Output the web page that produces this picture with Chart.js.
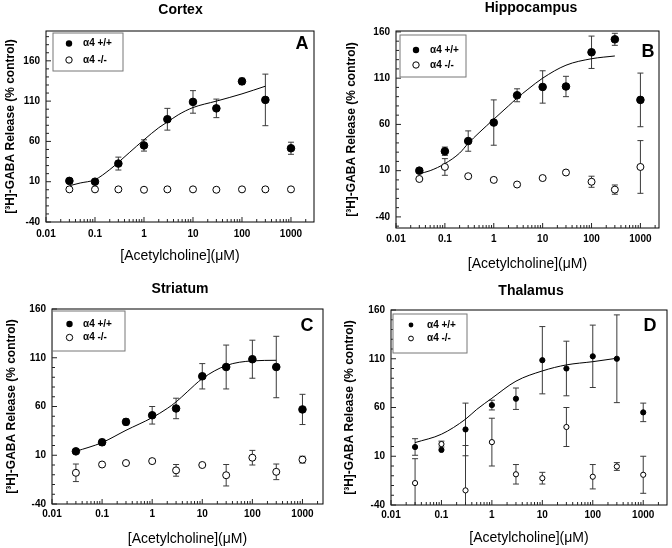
<!DOCTYPE html>
<html>
<head>
<meta charset="utf-8">
<script src="https://cdn.jsdelivr.net/npm/chart.js@4.4.0/dist/chart.umd.min.js"></script>
<style>
body { margin: 0; background: #fff; }
#wrap { position: relative; width: 672px; height: 548px; }
.panel { position: absolute; width: 336px; height: 274px; }
</style>
</head>
<body>
<div id="wrap">
  <div class="panel" style="left:0;top:0"><canvas id="cortex" width="336" height="274"></canvas></div>
  <div class="panel" style="left:336px;top:0"><canvas id="hippo" width="336" height="274"></canvas></div>
  <div class="panel" style="left:0;top:274px"><canvas id="striatum" width="336" height="274"></canvas></div>
  <div class="panel" style="left:336px;top:274px"><canvas id="thalamus" width="336" height="274"></canvas></div>
</div>
<script>
"use strict";
const conc = [0.03, 0.1, 0.3, 1, 3, 10, 30, 100, 300, 1000];
const xTicks = [0.01, 0.1, 1, 10, 100, 1000];
const xTickLabels = ["0.01", "0.1", "1", "10", "100", "1000"];
const yTicks = [-40, 10, 60, 110, 160];
const yTickLabels = ["-40", "10", "60", "110", "160"];
const legendLabels = ["\u03b14 +/+", "\u03b14 -/-"];
const xTitle = "[Acetylcholine](\u03bcM)";
const yTitle = "[\u00b3H]-GABA Release (% control)";

// Cortex (A)
const cortexWt = [11, 10, 32.5, 55, 87.5, 109, 101, 134.5, 111.5, 51.5];
const cortexWtErr = [2.5, 2.5, 8, 7, 13.5, 14, 11.5, 4, 32, 7.5];
const cortexKo = [0.5, 0.5, 0.5, 0, 0.5, 0.5, 0, 0.5, 0.5, 0.5];
const cortexKoErr = [0, 0, 0, 0, 0, 0, 0, 0, 0, 0];
const cortexFitX = [0.03, 0.05, 0.1, 0.2, 0.3, 0.5, 1, 2, 3, 5, 10, 30, 100, 300];
const cortexFitY = [5, 8.4, 12.5, 25, 34, 46, 62, 77, 84, 93, 102, 110, 119, 128.5];

// Hippocampus (B)
const hippoWt = [10, 31, 42, 62, 91.5, 100.5, 101, 138, 152, 86.5];
const hippoWtErr = [0, 4.5, 11, 24.5, 7, 17.5, 11, 17.5, 6.5, 29];
const hippoKo = [1, 14, 4, 0, -5, 2, 8, -2, -10.5, 14];
const hippoKoErr = [0, 9, 1.5, 2, 2, 0, 2, 6, 5, 28.5];
const hippoFitX = [0.03, 0.05, 0.1, 0.2, 0.3, 0.5, 1, 2, 3, 5, 10, 30, 100, 300];
const hippoFitY = [6.7, 10, 17.6, 29, 39.5, 51, 65.6, 80, 88.5, 98, 110, 124, 131, 134];

// Striatum (C)
const striatumWt = [14, 23.3, 44.2, 51, 58, 91, 100.5, 108.5, 100.5, 57];
const striatumWtErr = [1.5, 3, 3, 9, 10.5, 13, 22.5, 19.5, 31.5, 15.5];
const striatumKo = [-8, 0.5, 2, 4, -5.5, 0, -10.5, 7.5, -7, 5.5];
const striatumKoErr = [9, 0, 0, 2, 6, 0, 11, 7.5, 8, 3.5];
const striatumFitX = [0.03, 0.1, 0.3, 1, 2, 3, 5, 10, 30, 100, 300];
const striatumFitY = [14, 23, 35.6, 48.6, 58, 64.7, 75, 88.6, 102, 106.8, 107.4];

// Thalamus (D)
const thalamusWt = [19.5, 16.5, 37.5, 62.5, 69, 108.5, 100, 112.5, 110, 55];
const thalamusWtErr = [8.5, 0, 27, 5, 11, 34.5, 28, 32, 45, 9.5];
const thalamusKo = [-17.5, 22.5, -25, 24.5, -8.5, -12.5, 40, -11, -0.5, -9];
const thalamusKoErr = [25, 3, 46, 24.5, 10, 6, 20, 12.5, 4, 19];
const thalamusFitX = [0.03, 0.1, 0.3, 0.5, 1, 3, 10, 30, 100, 300];
const thalamusFitY = [24, 32.6, 48, 58, 69.5, 87, 97.5, 103.7, 107, 110.5];

const FONT = "'Liberation Sans', Arial, Helvetica, sans-serif";
Chart.defaults.font.family = FONT;
Chart.defaults.color = "#000";

const panels = [
  { id: "cortex", name: "Cortex", letter: "A", wt: cortexWt, wtErr: cortexWtErr, ko: cortexKo, koErr: cortexKoErr,
    fitX: cortexFitX, fitY: cortexFitY, area: [46, 31, 314, 222], xMax: 2950, yMin: -40, yMax: 197,
    titlePos: [180.5, 10], letterPos: [302, 44], legendBox: [53, 33, 123, 71], legendMark: [69, 43.5, 60], legendTextX: 83,
    r: 3.8, rOpen: 3.5, rLegend: 3.2, yTitlePad: 3, xTickPad: 6.5, xTitlePad: 9 },
  { id: "hippo", name: "Hippocampus", letter: "B", wt: hippoWt, wtErr: hippoWtErr, ko: hippoKo, koErr: hippoKoErr,
    fitX: hippoFitX, fitY: hippoFitY, area: [60, 31, 323, 228], xMax: 2400, yMin: -52, yMax: 161,
    titlePos: [195, 8], letterPos: [312, 52], legendBox: [64, 35, 130, 77], legendMark: [80, 50, 65], legendTextX: 94,
    r: 3.8, rOpen: 3.5, rLegend: 3.2, yTitlePad: 8, xTickPad: 5, xTitlePad: 1 },
  { id: "striatum", name: "Striatum", letter: "C", wt: striatumWt, wtErr: striatumWtErr, ko: striatumKo, koErr: striatumKoErr,
    fitX: striatumFitX, fitY: striatumFitY, area: [52, 35, 323, 230], xMax: 2570, yMin: -40, yMax: 160,
    titlePos: [180, 15], letterPos: [307, 52], legendBox: [52.5, 37, 125, 77], legendMark: [69.5, 50, 63.5], legendTextX: 83,
    r: 3.8, rOpen: 3.5, rLegend: 3.2, yTitlePad: 4.5, xTickPad: 4, xTitlePad: 0 },
  { id: "thalamus", name: "Thalamus", letter: "D", wt: thalamusWt, wtErr: thalamusWtErr, ko: thalamusKo, koErr: thalamusKoErr,
    fitX: thalamusFitX, fitY: thalamusFitY, area: [55, 36, 333, 231], xMax: 2960, yMin: -40, yMax: 160,
    titlePos: [195, 17.5], letterPos: [314, 52], legendBox: [57, 40, 131, 79], legendMark: [75, 51, 64.5], legendTextX: 91,
    r: 2.6, rOpen: 2.6, rLegend: 2.4, yTitlePad: 6.5, xTickPad: 4.5, xTitlePad: 1 }
];

function decorFor(p) {
  return {
    id: "decor",
    beforeDatasetsDraw(chart) {
      const ctx = chart.ctx;
      const xs = chart.scales.x, ys = chart.scales.y, a = chart.chartArea;
      ctx.save();
      ctx.beginPath();
      ctx.rect(a.left, a.top, a.right - a.left, a.bottom - a.top);
      ctx.clip();
      ctx.strokeStyle = "#3a3a3a";
      ctx.lineWidth = 1;
      chart.data.datasets.forEach(ds => {
        if (!ds.errors) return;
        ds.data.forEach((pt, i) => {
          const e = ds.errors[i];
          if (!e) return;
          const x = xs.getPixelForValue(pt.x);
          const y1 = ys.getPixelForValue(pt.y + e);
          const y2 = ys.getPixelForValue(pt.y - e);
          ctx.beginPath();
          ctx.moveTo(x, y1); ctx.lineTo(x, y2);
          ctx.moveTo(x - 3, y1); ctx.lineTo(x + 3, y1);
          ctx.moveTo(x - 3, y2); ctx.lineTo(x + 3, y2);
          ctx.stroke();
        });
      });
      ctx.restore();
    },
    afterDraw(chart) {
      const ctx = chart.ctx;
      const xs = chart.scales.x, ys = chart.scales.y, a = chart.chartArea;
      ctx.save();
      ctx.strokeStyle = "#000";
      ctx.lineWidth = 1;
      ctx.strokeRect(a.left, a.top, a.right - a.left, a.bottom - a.top);

      // inward ticks, bottom and left only
      ctx.strokeStyle = "#222";
      ctx.beginPath();
      for (let d = 0.01; d <= 1000; d *= 10) {
        for (let m = 1; m < 10; m++) {
          const v = d * m;
          if (v > p.xMax) break;
          const x = xs.getPixelForValue(v);
          const len = m === 1 ? 5 : 3;
          ctx.moveTo(x, a.bottom); ctx.lineTo(x, a.bottom - len);
        }
      }
      for (let v = Math.ceil(p.yMin / 10) * 10; v <= p.yMax; v += 10) {
        const y = ys.getPixelForValue(v);
        const len = yTicks.includes(v) ? 5 : 3;
        ctx.moveTo(a.left, y); ctx.lineTo(a.left + len, y);
      }
      ctx.stroke();

      // legend box
      const b = p.legendBox;
      ctx.fillStyle = "#fff";
      ctx.fillRect(b[0], b[1], b[2] - b[0], b[3] - b[1]);
      ctx.strokeStyle = "#777";
      ctx.strokeRect(b[0], b[1], b[2] - b[0], b[3] - b[1]);
      const mk = p.legendMark;
      ctx.strokeStyle = "#000";
      ctx.fillStyle = "#000";
      ctx.beginPath(); ctx.arc(mk[0], mk[1], p.rLegend, 0, Math.PI * 2); ctx.fill();
      ctx.fillStyle = "#fff";
      ctx.beginPath(); ctx.arc(mk[0], mk[2], p.rLegend, 0, Math.PI * 2); ctx.fill(); ctx.stroke();
      ctx.fillStyle = "#000";
      ctx.font = "bold 10px " + FONT;
      ctx.textAlign = "left";
      ctx.textBaseline = "middle";
      ctx.fillText(legendLabels[0], p.legendTextX, mk[1]);
      ctx.fillText(legendLabels[1], p.legendTextX, mk[2]);

      // panel title and letter
      ctx.textAlign = "center";
      ctx.font = "bold 14px " + FONT;
      ctx.fillText(p.name, p.titlePos[0], p.titlePos[1]);
      ctx.font = "bold 18px " + FONT;
      ctx.fillText(p.letter, p.letterPos[0], p.letterPos[1]);
      ctx.restore();
    }
  };
}

function makeChart(p) {
  const toPoints = (xs, ys) => xs.map((x, i) => ({ x: x, y: ys[i] }));
  const [left, top, right, bottom] = p.area;
  return new Chart(document.getElementById(p.id), {
    type: "scatter",
    data: {
      datasets: [
        { data: toPoints(conc, p.wt), errors: p.wtErr, pointRadius: p.r, pointBackgroundColor: "#000",
          pointBorderColor: "#000", pointBorderWidth: 1 },
        { data: toPoints(conc, p.ko), errors: p.koErr, pointRadius: p.rOpen, pointBackgroundColor: "#fff",
          pointBorderColor: "#000", pointBorderWidth: 1 },
        { data: toPoints(p.fitX, p.fitY), showLine: true, pointRadius: 0, borderColor: "#000",
          borderWidth: 1, cubicInterpolationMode: "monotone" }
      ]
    },
    options: {
      responsive: false,
      animation: false,
      devicePixelRatio: 1,
      layout: { padding: { top: top, right: 336 - right, bottom: 0, left: 0 } },
      plugins: { legend: { display: false }, tooltip: { enabled: false } },
      scales: {
        x: {
          type: "logarithmic",
          min: 0.01,
          max: p.xMax,
          grid: { display: false, drawTicks: false },
          border: { display: false },
          afterBuildTicks: s => { s.ticks = xTicks.map(v => ({ value: v })); },
          afterFit: s => { s.height = 274 - bottom; },
          ticks: {
            autoSkip: false, maxRotation: 0, padding: p.xTickPad,
            font: { size: 10, weight: "bold" },
            callback: (v, i) => xTickLabels[i]
          },
          title: { display: true, text: xTitle, font: { size: 14 }, padding: { top: 0, bottom: p.xTitlePad } }
        },
        y: {
          min: p.yMin,
          max: p.yMax,
          grid: { display: false, drawTicks: false },
          border: { display: false },
          afterBuildTicks: s => { s.ticks = yTicks.map(v => ({ value: v })); },
          afterFit: s => { s.width = left; },
          ticks: {
            padding: 6,
            font: { size: 10, weight: "bold" },
            callback: (v, i) => yTickLabels[i]
          },
          title: { display: true, text: yTitle, font: { size: 12, weight: "bold" }, padding: { top: p.yTitlePad, bottom: 0 } }
        }
      }
    },
    plugins: [decorFor(p)]
  });
}

panels.forEach(makeChart);
</script>
</body>
</html>
